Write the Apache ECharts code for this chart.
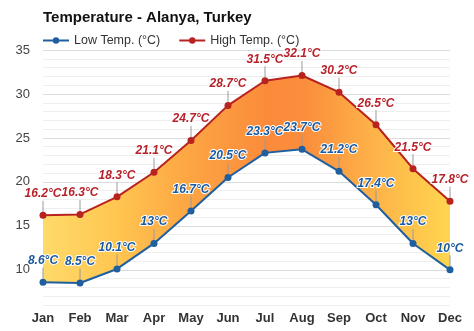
<!DOCTYPE html>
<html>
<head>
<meta charset="utf-8">
<script src="https://cdn.jsdelivr.net/npm/echarts@6/dist/echarts.min.js"></script>
<style>
  html, body { margin: 0; padding: 0; background: #fff; }
  #chart { width: 474px; height: 331px; }
</style>
</head>
<body>
<div id="chart"></div>
<script>
// Monthly averages for Alanya
const months = ['Jan', 'Feb', 'Mar', 'Apr', 'May', 'Jun', 'Jul', 'Aug', 'Sep', 'Oct', 'Nov', 'Dec'];
const lowTemp = [8.6, 8.5, 10.1, 13, 16.7, 20.5, 23.3, 23.7, 21.2, 17.4, 13, 10];
const highTemp = [16.2, 16.3, 18.3, 21.1, 24.7, 28.7, 31.5, 32.1, 30.2, 26.5, 21.5, 17.8];
const yTicks = [10, 15, 20, 25, 30, 35];

const FONT = '"Liberation Sans", Arial, sans-serif';
const bandHeight = highTemp.map((h, i) => +(h - lowTemp[i]).toFixed(1));

const chart = echarts.init(document.getElementById('chart'), null, { renderer: 'canvas' });

function valueLabel(color) {
  return {
    show: true,
    position: 'top',
    distance: 4,
    formatter: p => p.value + '°C',
    fontFamily: FONT,
    fontSize: 12,
    fontWeight: 'bold',
    fontStyle: 'italic',
    color: color,
    textBorderColor: '#fff',
    textBorderWidth: 2
  };
}

const bandGradient = new echarts.graphic.LinearGradient(0, 0, 1, 0, [
  { offset: 0.00, color: '#ffda6a' },
  { offset: 0.18, color: '#ffc650' },
  { offset: 0.36, color: '#fda543' },
  { offset: 0.55, color: '#fb8b3b' },
  { offset: 0.64, color: '#fb8d3c' },
  { offset: 0.82, color: '#fdb449' },
  { offset: 1.00, color: '#ffd54e' }
]);

chart.setOption({
  animation: false,
  title: {
    text: 'Temperature - Alanya, Turkey',
    left: 38,
    top: 5,
    textStyle: { fontFamily: FONT, fontSize: 15, fontWeight: 'bold', color: '#111' }
  },
  legend: {
    left: 37,
    top: 29,
    itemWidth: 26,
    itemHeight: 8,
    itemGap: 18,
    data: ['Low Temp. (°C)', 'High Temp. (°C)'],
    textStyle: { fontFamily: FONT, fontSize: 12.5, color: '#333' }
  },
  grid: { left: 43, right: 24, top: 50, bottom: 26 },
  xAxis: {
    type: 'category',
    data: months,
    boundaryGap: false,
    axisLine: { show: false },
    axisTick: { show: false },
    axisLabel: {
      margin: 7,
      fontFamily: FONT,
      fontSize: 13,
      fontWeight: 'bold',
      color: '#333'
    },
    splitLine: { show: false }
  },
  yAxis: {
    type: 'value',
    min: 6,
    max: 35,
    interval: 1,
    axisLine: { show: false },
    axisTick: { show: false },
    axisLabel: {
      margin: 13,
      fontFamily: FONT,
      fontSize: 13,
      color: '#444',
      formatter: v => (yTicks.includes(v) ? String(v) : '')
    },
    splitLine: {
      show: true,
      lineStyle: { color: ['#eeeeee', '#eeeeee', '#eeeeee', '#eeeeee', '#dcdcdc'], width: 1 }
    }
  },
  series: [
    {
      name: 'base',
      type: 'line',
      stack: 'band',
      data: lowTemp,
      symbol: 'none',
      lineStyle: { opacity: 0 },
      silent: true,
      z: 1
    },
    {
      name: 'range',
      type: 'line',
      stack: 'band',
      data: bandHeight,
      symbol: 'none',
      lineStyle: { opacity: 0 },
      areaStyle: { color: bandGradient, opacity: 1 },
      silent: true,
      z: 1
    },
    {
      name: 'Low Temp. (°C)',
      type: 'line',
      data: lowTemp,
      color: '#1f5f9f',
      symbol: 'circle',
      symbolSize: 7,
      lineStyle: { width: 2, color: '#1f5f9f' },
      itemStyle: { color: '#1f5f9f' },
      label: valueLabel('#1c5aa0'),
      labelLayout: { dy: -8 },
      labelLine: { show: true, lineStyle: { color: '#9a9a9a', width: 1 } },
      z: 3
    },
    {
      name: 'High Temp. (°C)',
      type: 'line',
      data: highTemp,
      color: '#b8221f',
      symbol: 'circle',
      symbolSize: 7,
      lineStyle: { width: 2, color: '#b8221f' },
      itemStyle: { color: '#b8221f' },
      label: valueLabel('#b8222a'),
      labelLayout: { dy: -8 },
      labelLine: { show: true, lineStyle: { color: '#9a9a9a', width: 1 } },
      z: 3
    }
  ]
});
</script>
</body>
</html>
